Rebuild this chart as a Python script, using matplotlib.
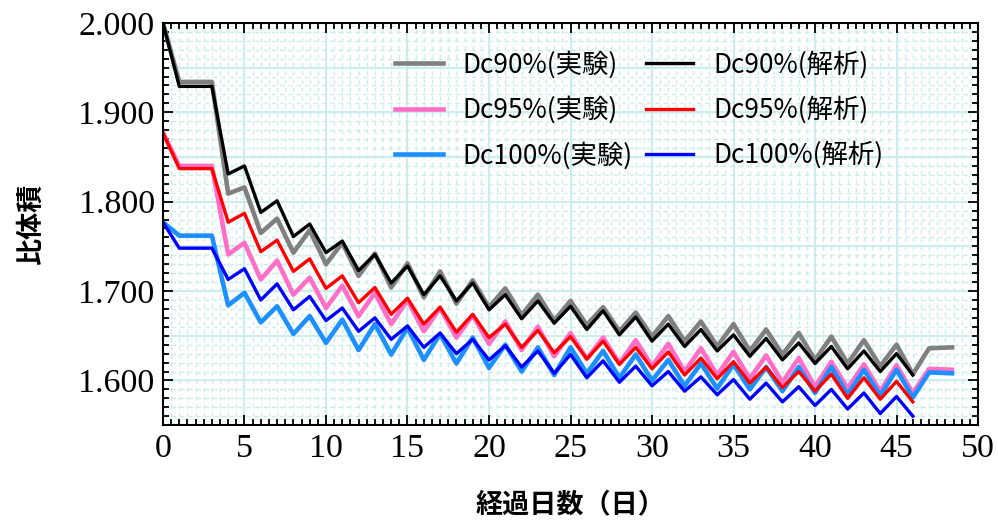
import numpy as np
import matplotlib
matplotlib.use('Agg')
import matplotlib.pyplot as plt
from matplotlib.ticker import MultipleLocator, FormatStrFormatter

# days
days_exp = list(range(48)) + [48.4]
days_calc = list(range(47))

# experiment (実験)
dc90_exp = [2.000, 1.934, 1.934, 1.934, 1.809, 1.816, 1.765, 1.781, 1.743, 1.768,
            1.730, 1.754, 1.717, 1.742, 1.704, 1.731, 1.693, 1.722, 1.686, 1.712,
            1.682, 1.703, 1.673, 1.696, 1.667, 1.689, 1.662, 1.682, 1.655, 1.676,
            1.649, 1.672, 1.644, 1.666, 1.638, 1.663, 1.633, 1.657, 1.629, 1.653,
            1.623, 1.649, 1.619, 1.645, 1.616, 1.640, 1.607, 1.636, 1.637]
dc95_exp = [1.877, 1.840, 1.840, 1.840, 1.741, 1.754, 1.713, 1.734, 1.696, 1.715,
            1.681, 1.706, 1.672, 1.698, 1.663, 1.690, 1.655, 1.681, 1.648, 1.673,
            1.641, 1.666, 1.634, 1.660, 1.627, 1.653, 1.624, 1.648, 1.619, 1.645,
            1.616, 1.641, 1.610, 1.636, 1.606, 1.632, 1.602, 1.628, 1.598, 1.625,
            1.593, 1.621, 1.591, 1.618, 1.588, 1.617, 1.586, 1.613, 1.612]
dc100_exp = [1.777, 1.762, 1.762, 1.762, 1.684, 1.698, 1.665, 1.683, 1.652, 1.672,
             1.642, 1.668, 1.634, 1.663, 1.629, 1.659, 1.623, 1.652, 1.619, 1.648,
             1.614, 1.640, 1.610, 1.637, 1.606, 1.637, 1.608, 1.633, 1.603, 1.629,
             1.600, 1.623, 1.594, 1.619, 1.591, 1.618, 1.590, 1.615, 1.588, 1.615,
             1.586, 1.615, 1.584, 1.612, 1.583, 1.612, 1.581, 1.609, 1.608]

# analysis (解析)
dc90_calc = [2.000, 1.929, 1.929, 1.929, 1.831, 1.840, 1.788, 1.801, 1.761, 1.775,
             1.743, 1.756, 1.723, 1.741, 1.709, 1.728, 1.696, 1.717, 1.689, 1.709,
             1.679, 1.696, 1.669, 1.689, 1.664, 1.683, 1.657, 1.678, 1.651, 1.671,
             1.644, 1.663, 1.638, 1.657, 1.633, 1.651, 1.627, 1.647, 1.623, 1.642,
             1.619, 1.638, 1.613, 1.633, 1.610, 1.630, 1.606]
dc95_calc = [1.877, 1.837, 1.837, 1.837, 1.777, 1.787, 1.744, 1.757, 1.722, 1.736,
             1.703, 1.717, 1.687, 1.704, 1.674, 1.692, 1.663, 1.682, 1.654, 1.674,
             1.648, 1.663, 1.637, 1.656, 1.631, 1.649, 1.624, 1.644, 1.618, 1.637,
             1.613, 1.632, 1.606, 1.625, 1.602, 1.621, 1.597, 1.615, 1.592, 1.610,
             1.588, 1.607, 1.580, 1.603, 1.579, 1.599, 1.576]
dc100_calc = [1.777, 1.748, 1.748, 1.748, 1.713, 1.725, 1.690, 1.708, 1.679, 1.694,
              1.667, 1.681, 1.655, 1.670, 1.646, 1.661, 1.637, 1.653, 1.630, 1.646,
              1.623, 1.639, 1.615, 1.633, 1.608, 1.629, 1.603, 1.622, 1.598, 1.616,
              1.594, 1.610, 1.588, 1.604, 1.584, 1.601, 1.579, 1.597, 1.576, 1.593,
              1.572, 1.590, 1.568, 1.586, 1.563, 1.582, 1.560]

plt.rcParams['font.family'] = ['Noto Sans CJK JP', 'DejaVu Sans']

fig = plt.figure(figsize=(9.98, 5.21), dpi=100)
ax = fig.add_axes([0.1633, 0.184, 0.8167, 0.772])

# background grid
grid_c = '#c9ecec'
for gx in np.arange(0.5, 50, 0.5):
    ax.axvline(gx, color=grid_c, lw=1.0, ls=(0, (3, 3)), zorder=0)
for gy in np.arange(1.55, 2.0, 0.01):
    ax.axhline(gy, color=grid_c, lw=1.0, ls=(0, (3, 3)), zorder=0)
for gx in np.arange(5, 50, 5):
    ax.axvline(gx, color=grid_c, lw=1.3, zorder=0)
for gy in np.arange(1.60, 2.0, 0.05):
    ax.axhline(gy, color=grid_c, lw=1.3, zorder=0)

l1, = ax.plot(days_exp, dc90_exp, color='#808080', lw=3.3, label='Dc90%(実験)')
l2, = ax.plot(days_exp, dc95_exp, color='#ff6ec7', lw=3.3, label='Dc95%(実験)')
l3, = ax.plot(days_exp, dc100_exp, color='#1e8fff', lw=3.3, label='Dc100%(実験)')
l4, = ax.plot(days_calc, dc90_calc, color='black', lw=2.4, label='Dc90%(解析)')
l5, = ax.plot(days_calc, dc95_calc, color='red', lw=2.4, label='Dc95%(解析)')
l6, = ax.plot(days_calc, dc100_calc, color='blue', lw=2.4, label='Dc100%(解析)')

ax.set_xlim(0, 50)
ax.set_ylim(1.55, 2.0)
ax.xaxis.set_major_locator(MultipleLocator(5))
ax.xaxis.set_minor_locator(MultipleLocator(0.5))
ax.yaxis.set_major_locator(MultipleLocator(0.1))
ax.yaxis.set_minor_locator(MultipleLocator(0.01))
ax.yaxis.set_major_formatter(FormatStrFormatter('%.3f'))
ax.tick_params(which='both', direction='in', top=True, right=True, width=1.3)
ax.tick_params(which='major', length=7, pad=6)
ax.tick_params(which='minor', length=4)
for lab in ax.get_xticklabels() + ax.get_yticklabels():
    lab.set_fontfamily('Liberation Serif')
    lab.set_fontsize(24.5)
for s in ax.spines.values():
    s.set_linewidth(1.5)

ax.set_xlabel('経過日数（日）', fontsize=19.5, fontweight='bold', labelpad=19)
ax.set_ylabel('比体積', fontsize=19.5, fontweight='bold', labelpad=24)

ax.legend(handles=[l1, l2, l3, l4, l5, l6], ncol=2, frameon=False,
          loc='upper left', bbox_to_anchor=(0.256, 0.99), fontsize=19,
          handlelength=1.8, handletextpad=0.75, columnspacing=0.5,
          labelspacing=0.67)

fig.savefig('out.png', dpi=100)
